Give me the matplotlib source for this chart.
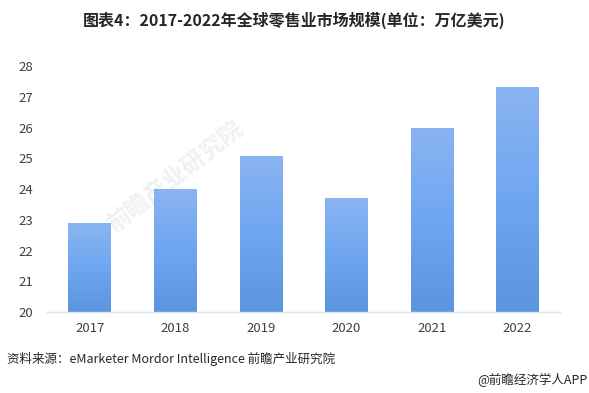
import numpy as np
import matplotlib
matplotlib.use("Agg")
import matplotlib.pyplot as plt
from matplotlib.colors import LinearSegmentedColormap

plt.rcParams['font.family'] = ['Noto Sans CJK SC', 'DejaVu Sans']

# 数据 (万亿美元)
years = ['2017', '2018', '2019', '2020', '2021', '2022']
values = [22.88, 24.0, 25.07, 23.7, 25.98, 27.32]
y_ticks = [20, 21, 22, 23, 24, 25, 26, 27, 28]

title = '图表4：2017-2022年全球零售业市场规模(单位：万亿美元)'
source = '资料来源：eMarketer Mordor Intelligence 前瞻产业研究院'
credit = '@前瞻经济学人APP'

fig = plt.figure(figsize=(5.89, 3.93), dpi=100)
ax = fig.add_axes([0.08, 0.206, 0.871, 0.626])

x = np.arange(len(years))
bars = ax.bar(x, values, width=0.5, bottom=0, color='none', edgecolor='none', zorder=2)

# 渐变填充：顶部浅，底部深
cmap = LinearSegmentedColormap.from_list('blu', ['#5d94df', '#6fa6f2', '#8ab4f1'])
grad = np.linspace(0, 1, 256).reshape(-1, 1)
for b in bars:
    x0, w, h = b.get_x(), b.get_width(), b.get_height()
    im = ax.imshow(grad, cmap=cmap, origin='lower', aspect='auto',
                   extent=[x0, x0 + w, 20, h], zorder=2)
    im.set_clip_path(b)

ax.set_xlim(-0.5, len(years) - 0.5)
ax.set_ylim(20, 28)
ax.set_yticks(y_ticks)
ax.set_xticks(x)
ax.set_xticklabels(years)
ax.tick_params(axis='both', length=0, labelsize=9.5, colors='#404040')
ax.tick_params(axis='x', pad=7)
ax.tick_params(axis='y', pad=10)
for s in ['top', 'right', 'left']:
    ax.spines[s].set_visible(False)
ax.spines['bottom'].set_color('#d6e2f0')
ax.spines['bottom'].set_linewidth(1.0)

# 水印
fig.text(0.30, 0.55, '前瞻产业研究院', fontsize=17, color='#888888', alpha=0.12,
         rotation=38, ha='center', va='center', fontweight='bold')

fig.text(0.5, 0.948, title, ha='center', va='center', fontsize=11.5,
         fontweight='bold', color='#262626')
fig.text(0.012, 0.087, source, ha='left', va='center', fontsize=9, color='#262626')
fig.text(0.998, 0.033, credit, ha='right', va='center', fontsize=9, color='#262626')

fig.savefig('out.png', dpi=100)
